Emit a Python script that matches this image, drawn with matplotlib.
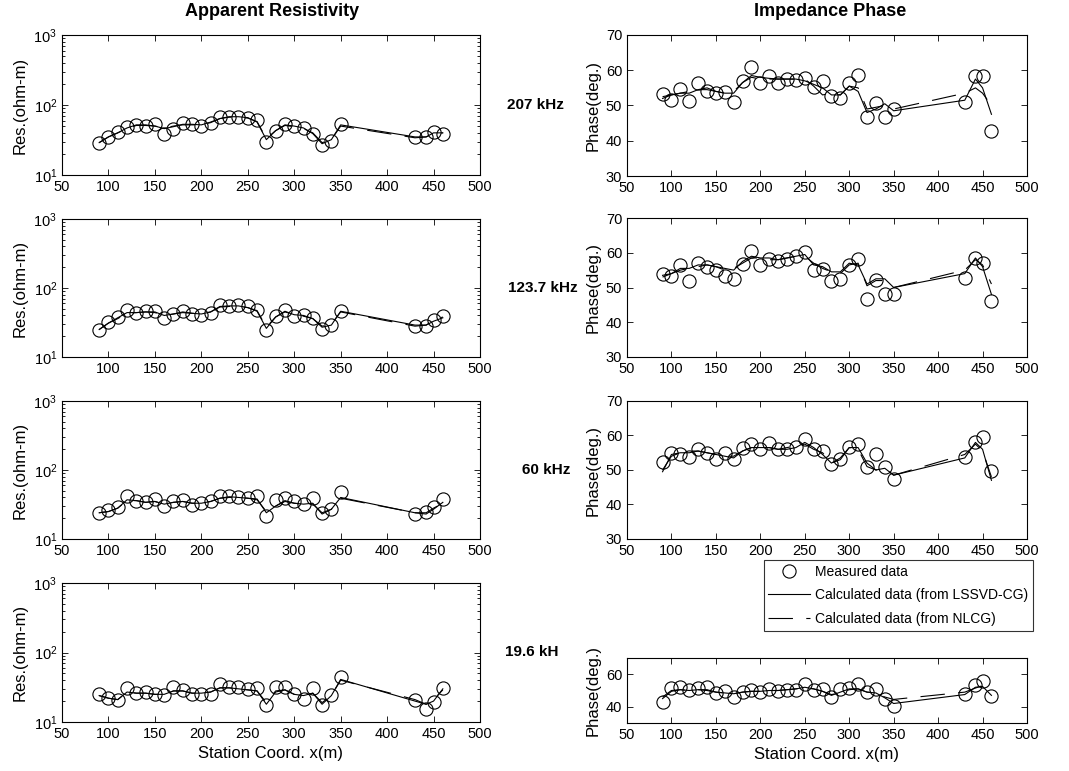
import numpy as np
import matplotlib
matplotlib.use("Agg")
import matplotlib.pyplot as plt
from matplotlib.lines import Line2D

plt.rcParams['font.family'] = ['Liberation Sans', 'DejaVu Sans']
plt.rcParams['xtick.direction'] = 'in'
plt.rcParams['ytick.direction'] = 'in'

# station coordinates (m)
x = [90, 100, 110, 120, 130, 140, 150, 160, 170, 180, 190, 200, 210, 220, 230, 240,
     250, 260, 270, 280, 290, 300, 310, 320, 330, 340, 350, 430, 442, 450, 460]

freqs = ["207 kHz", "123.7 kHz", "60 kHz", "19.6 kH"]

# apparent resistivity (ohm-m)
res_meas_207 = [28.3, 34.5, 40.7, 47.9, 51.8, 50, 53, 38, 46, 55, 53, 50.7, 56, 68, 68, 68,
                66, 61, 30, 43, 53.6, 50, 47, 38, 26.8, 30.6, 53, 34.5, 34.5, 41.6, 38]
res_lssvd_207 = [29, 35, 40, 47, 52, 52, 50, 46, 49, 53, 53, 52, 57, 64, 68, 68,
                 66, 57, 32, 43, 52, 50, 47, 39, 28, 32, 52, 35, 35, 40, 40]
res_nlcg_207 = [29, 35, 40, 46, 51, 51, 50, 47, 50, 52, 52, 52, 56, 64, 67, 67,
                65, 58, 33, 43, 51, 49, 46, 40, 29, 32, 50, 34, 35, 39, 40]

res_meas_123 = [24.9, 31.8, 37.6, 47.5, 43.4, 46.9, 46.9, 36.7, 42, 46.9, 42.5, 41, 43.4, 57.3, 54.2, 57.3,
                55.4, 48.5, 24.9, 38.8, 48.5, 38.8, 40.2, 36.7, 25.5, 28.8, 46.9, 27.8, 28.5, 34, 38.8]
res_lssvd_123 = [25, 31, 37, 44, 44, 45, 45, 40, 42, 45, 43, 42, 45, 54, 55, 55,
                 52, 46, 26, 38, 46, 41, 40, 36, 27, 29, 46, 29, 29, 33, 37]
res_nlcg_123 = [25, 31, 36, 43, 44, 45, 44, 40, 42, 44, 43, 42, 45, 53, 54, 54,
                52, 47, 27, 38, 45, 41, 39, 36, 28, 30, 45, 28, 29, 34, 38]

res_meas_60 = [23.9, 26.1, 28.8, 42.6, 36.1, 34.5, 38.1, 29.8, 36.1, 36.5, 31.5, 33.3, 35.2, 42.6, 42.6, 40.7,
               39.4, 41.7, 21.8, 36.5, 39.4, 35.2, 32.6, 39.4, 23.9, 27.3, 48.2, 23.3, 24.7, 29.2, 38.1]
res_lssvd_60 = [24, 25, 28, 37, 36, 34, 35, 32, 34, 35, 33, 33, 35, 39, 41, 40,
                39, 38, 24, 30, 36, 33, 32, 33, 23, 27, 40, 24, 23, 27, 34]
res_nlcg_60 = [24, 25, 28, 36, 36, 34, 35, 32, 34, 35, 33, 33, 35, 39, 40, 40,
               39, 37, 25, 30, 35, 33, 32, 32, 24, 27, 39, 24, 24, 28, 33]

res_meas_19 = [25.1, 22.5, 20.6, 31, 26.3, 26.8, 25.7, 24.8, 32, 28.7, 25.7, 25.7, 25.7, 34.7, 32, 32,
               29.7, 31, 17.4, 32, 32, 25.1, 21.7, 31, 17.4, 24.3, 44.8, 20.6, 15.6, 19.5, 31]
res_lssvd_19 = [24, 22, 21, 27, 26, 26, 25, 25, 28, 28, 26, 26, 27, 31, 31, 30,
                29, 28, 18, 27, 29, 25, 24, 26, 18, 24, 41, 20, 18, 20, 30]
res_nlcg_19 = [24, 22, 21, 27, 26, 26, 25, 25, 28, 28, 26, 26, 27, 31, 31, 30,
               29, 28, 19, 28, 29, 25, 24, 26, 19, 24, 40, 21, 18, 21, 29]

# impedance phase (deg.)
ph_meas_207 = [53.2, 51.7, 54.8, 51.3, 56.3, 54.1, 53.6, 53.8, 50.9, 57, 61, 56.5, 58.4, 56.5, 57.4, 57.1,
               57.7, 55.3, 57, 52.7, 52.2, 56.3, 58.6, 46.8, 50.8, 46.8, 48.9, 51, 58.5, 58.4, 42.8]
ph_lssvd_207 = [52, 53, 53.5, 53.5, 54.5, 55, 54, 53.5, 53.5, 56.5, 58.5, 58, 57.7, 57.5, 57.5, 57.5,
                57, 56, 55, 53, 53, 55.5, 54, 48, 49, 50.5, 48.5, 51.5, 57.5, 55, 47.5]
ph_nlcg_207 = [52.5, 53, 53.5, 54, 54.5, 54.5, 54, 53.5, 54, 56.5, 58, 57.5, 57.5, 57.5, 57.5, 57.5,
               57.5, 55.5, 53, 53.5, 53, 55.5, 55, 49, 49.5, 50, 49, 53.5, 55, 53.5, 50]

ph_meas_123 = [53.8, 53.3, 56.4, 51.9, 57, 55.9, 55.1, 53.3, 52.4, 56.9, 60.5, 56.6, 58.3, 57.6, 58.3, 59.2,
               60.2, 55.1, 55.4, 51.9, 52.4, 56.6, 58.1, 46.6, 52.1, 48, 48, 52.6, 58.5, 57.1, 46.2]
ph_lssvd_123 = [53.5, 54, 55.5, 55.5, 56.5, 56.5, 56, 55.5, 55, 57.5, 59, 58.5, 58.5, 58, 58.5, 59,
                59.5, 56.5, 56, 54.5, 54.5, 57, 56.5, 51, 52.5, 52.5, 50, 54, 58.5, 56, 48]
ph_nlcg_123 = [53, 54, 55, 55.5, 56, 56.5, 56, 55, 55.5, 57, 58.5, 58.5, 58, 58, 58.5, 59,
               59, 57, 55.5, 54.5, 54, 56.5, 57, 50.5, 52, 52, 50, 55, 58, 56.5, 51]

ph_meas_60 = [52.2, 55, 54.5, 53.8, 56, 55, 53.2, 55, 53.2, 56.4, 57.6, 56, 57.8, 56, 56.2, 56.7,
              59.1, 56, 55.5, 51.6, 53.2, 56.7, 57.4, 50.8, 54.6, 50.8, 47.3, 53.9, 58.2, 59.6, 49.8]
ph_lssvd_60 = [49.5, 54.5, 55, 55, 55.5, 55, 54.5, 54, 53.5, 55.5, 56.5, 56.5, 56.5, 56, 56, 56.5,
               58, 56.5, 54.5, 52, 53.5, 56.5, 56.5, 52, 50, 50.5, 48.5, 53.5, 58, 56, 47]
ph_nlcg_60 = [50, 54, 55, 55.5, 55.5, 55, 54.5, 54, 54, 55.5, 56.5, 56.5, 56.5, 56, 56.5, 57,
              57.5, 56, 55, 52, 53, 56.5, 56, 51, 50, 50.5, 48.5, 54.5, 57.5, 55.5, 48]

ph_meas_19 = [43.1, 51.6, 52.2, 50.2, 51.6, 52.2, 48.2, 49.6, 46.1, 49.2, 50.2, 49.2, 51.2, 49.6, 50.2, 50.2,
              53.7, 50.2, 51.2, 46.1, 51.2, 51.6, 53.9, 48.8, 51.2, 44.5, 40.6, 47.6, 53.3, 55.7, 46.7]
ph_lssvd_19 = [45, 49.5, 50.5, 50, 50.5, 50.5, 49, 48.5, 48, 49, 49.5, 49.5, 50, 50, 50.5, 51,
               52, 51, 49.5, 47, 49, 51, 51, 49, 48.5, 45.5, 42, 47.5, 52, 52.5, 47]
ph_nlcg_19 = [46, 50, 50.5, 50, 50.5, 50, 49, 48.5, 48, 49, 49.5, 49.5, 50, 50, 50.5, 51,
              51.5, 51, 49.5, 47.5, 48.5, 50.5, 51, 49, 48.5, 46, 44.5, 49, 51.5, 53, 48]

res_sets = [(res_meas_207, res_lssvd_207, res_nlcg_207),
            (res_meas_123, res_lssvd_123, res_nlcg_123),
            (res_meas_60, res_lssvd_60, res_nlcg_60),
            (res_meas_19, res_lssvd_19, res_nlcg_19)]
ph_sets = [(ph_meas_207, ph_lssvd_207, ph_nlcg_207),
           (ph_meas_123, ph_lssvd_123, ph_nlcg_123),
           (ph_meas_60, ph_lssvd_60, ph_nlcg_60),
           (ph_meas_19, ph_lssvd_19, ph_nlcg_19)]

W, H = 1069, 771
fig = plt.figure(figsize=(W / 100, H / 100), dpi=100)

def ax_at(x0, y0, x1, y1):
    return fig.add_axes([x0 / W, 1 - y1 / H, (x1 - x0) / W, (y1 - y0) / H])

left_rows = [(35, 175), (219, 357), (401, 539), (583, 722)]
right_rows = [(35, 176), (218, 357), (401, 539), (658, 723)]
mk = dict(marker='o', ms=9.5, mfc='none', mec='k', mew=0.8, ls='none')
dash = (22, 12)

def style(ax):
    ax.set_xlim(50, 500)
    ax.set_xticks(np.arange(50, 501, 50))
    ax.tick_params(which='both', top=True, right=True, labelsize=10.5, colors='k',
                   length=4, width=0.6)
    ax.tick_params(which='minor', length=2.5)
    for s in ax.spines.values():
        s.set_linewidth(0.8)

for i in range(4):
    meas, lssvd, nlcg = res_sets[i]
    ax = ax_at(62, left_rows[i][0], 480, left_rows[i][1])
    ax.plot(x, lssvd, color='k', lw=0.8)
    ax.plot(x, nlcg, color='k', lw=0.8, dashes=dash)
    ax.plot(x, meas, **mk)
    ax.set_yscale('log')
    ax.set_ylim(10, 1000)
    style(ax)
    ax.set_ylabel('Res.(ohm-m)', fontsize=12)
    if i == 1:
        ax.set_xticklabels([''] + [str(v) for v in range(100, 501, 50)])
    if i == 3:
        ax.set_xlabel('Station Coord. x(m)', fontsize=12)

    meas, lssvd, nlcg = ph_sets[i]
    ax = ax_at(627, right_rows[i][0], 1027, right_rows[i][1])
    ax.plot(x, lssvd, color='k', lw=0.8)
    ax.plot(x, nlcg, color='k', lw=0.8, dashes=dash)
    ax.plot(x, meas, **mk)
    ax.set_ylim(30, 70)
    if i == 3:
        ax.set_yticks([40, 60])
        ax.set_xlabel('Station Coord. x(m)', fontsize=12)
    else:
        ax.set_yticks(np.arange(30, 71, 10))
    style(ax)
    ax.set_ylabel('Phase(deg.)', fontsize=12)

label_pos = [(507, 105), (508, 288), (522, 470), (505, 652)]
for f, (px, py) in zip(freqs, label_pos):
    fig.text(px / W, 1 - py / H, f, fontsize=11, fontweight='bold', ha='left', va='center')

fig.text(272 / W, 1 - 12 / H, 'Apparent Resistivity', fontsize=13, fontweight='bold',
         ha='center', va='center')
fig.text(830 / W, 1 - 12 / H, 'Impedance Phase', fontsize=13, fontweight='bold',
         ha='center', va='center')

handles = [Line2D([], [], **mk),
           Line2D([], [], color='k', lw=0.8),
           Line2D([], [], color='k', lw=0.8, dashes=dash)]
labels = ['Measured data', 'Calculated data (from LSSVD-CG)', 'Calculated data (from NLCG)']
leg = fig.legend(handles, labels, loc='upper right', bbox_to_anchor=(1033 / W, 1 - 560 / H),
                 fontsize=10, frameon=True, fancybox=False, borderpad=0.35, labelspacing=0.68,
                 handlelength=3.0, handletextpad=0.35, borderaxespad=0)
leg.get_frame().set_edgecolor('k')
leg.get_frame().set_linewidth(0.8)

fig.savefig('out.png', dpi=100)
